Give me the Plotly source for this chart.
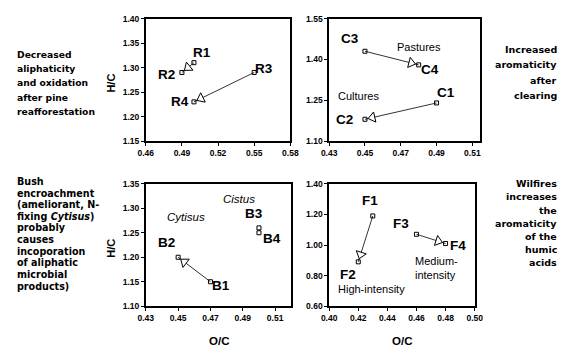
import math
import plotly.graph_objects as go

# ---------------- data ----------------
R_labels = ["R1", "R2", "R3", "R4"]
R_x = [0.50, 0.49, 0.55, 0.50]
R_y = [1.31, 1.29, 1.29, 1.23]
R_arrows = [(0, 1), (2, 3)]

C_labels = ["C1", "C2", "C3", "C4"]
C_x = [0.49, 0.45, 0.45, 0.48]
C_y = [1.24, 1.18, 1.43, 1.38]
C_arrows = [(0, 1), (2, 3)]

B_labels = ["B1", "B2", "B3", "B4"]
B_x = [0.47, 0.45, 0.50, 0.50]
B_y = [1.15, 1.20, 1.26, 1.25]
B_arrows = [(0, 1)]

F_labels = ["F1", "F2", "F3", "F4"]
F_x = [0.43, 0.42, 0.46, 0.48]
F_y = [1.19, 0.89, 1.07, 1.01]
F_arrows = [(0, 1), (2, 3)]

x_title = "O/C"
y_title = "H/C"

left_top_text = ["Decreased", "aliphaticity", "and oxidation", "after pine", "reafforestation"]
left_bottom_text = ["Bush", "encroachment", "(ameliorant, N-", "fixing <i>Cytisus</i>)", "probably",
                    "causes", "incoporation", "of aliphatic", "microbial", "products)"]
right_top_text = ["Increased", "aromaticity", "after", "clearing"]
right_bottom_text = ["Wilfires", "increases", "the", "aromaticity", "of the", "humic", "acids"]

# ---------------- layout constants ----------------
W, H = 571, 353
panels = {
    "TL": dict(xd=(142, 291), yd=(14, 140), xr=(0.46, 0.58), yr=(1.15, 1.40), xt=(0.46, 0.03), yt=(1.15, 0.05)),
    "TR": dict(xd=(331, 486), yd=(14, 140), xr=(0.43, 0.514), yr=(1.10, 1.55), xt=(0.43, 0.02), yt=(1.10, 0.15)),
    "BL": dict(xd=(142, 292), yd=(184, 310), xr=(0.43, 0.52), yr=(1.10, 1.35), xt=(0.43, 0.02), yt=(1.10, 0.05)),
    "BR": dict(xd=(331, 481), yd=(184, 310), xr=(0.40, 0.50), yr=(0.60, 1.40), xt=(0.40, 0.02), yt=(0.60, 0.20)),
}
axis_ids = {"TL": ("x", "y"), "TR": ("x2", "y2"), "BL": ("x3", "y3"), "BR": ("x4", "y4")}

FONT = "Liberation Sans, Arial, sans-serif"
SIDE_FONT = "DejaVu Sans, sans-serif"

fig = go.Figure()


def to_px(p, x, y):
    (x0, x1), (yt, yb) = p["xd"], p["yd"]
    (a0, a1), (b0, b1) = p["xr"], p["yr"]
    px = x0 + (x - a0) / (a1 - a0) * (x1 - x0)
    py = yb - (y - b0) / (b1 - b0) * (yb - yt)
    return px, py


def from_px(p, px, py):
    (x0, x1), (yt, yb) = p["xd"], p["yd"]
    (a0, a1), (b0, b1) = p["xr"], p["yr"]
    x = a0 + (px - x0) / (x1 - x0) * (a1 - a0)
    y = b0 + (yb - py) / (yb - yt) * (b1 - b0)
    return x, y


def add_group(name, xs, ys, labels, arrows, shifts):
    p = panels[name]
    xa, ya = axis_ids[name]
    for i, j in arrows:
        fig.add_trace(go.Scatter(x=[xs[i], xs[j]], y=[ys[i], ys[j]], mode="lines",
                                 line=dict(color="black", width=0.8), xaxis=xa, yaxis=ya,
                                 showlegend=False, hoverinfo="skip"))
    fig.add_trace(go.Scatter(x=xs, y=ys, mode="markers",
                             marker=dict(symbol="square-open", size=4, color="black",
                                         line=dict(width=1, color="black")),
                             xaxis=xa, yaxis=ya, showlegend=False))
    hx, hy, ang = [], [], []
    for i, j in arrows:
        p0 = to_px(p, xs[i], ys[i])
        p1 = to_px(p, xs[j], ys[j])
        dx, dy = p1[0] - p0[0], p1[1] - p0[1]
        L = math.hypot(dx, dy)
        back = 8.0
        cx, cy = p1[0] - dx / L * back, p1[1] - dy / L * back
        dxh, dyh = from_px(p, cx, cy)
        hx.append(dxh)
        hy.append(dyh)
        ang.append(math.degrees(math.atan2(dx, -dy)))
    fig.add_trace(go.Scatter(x=hx, y=hy, mode="markers",
                             marker=dict(symbol="triangle-up", size=9, color="white", angle=ang,
                                         line=dict(width=1, color="black")),
                             xaxis=xa, yaxis=ya, showlegend=False, hoverinfo="skip"))
    for k, lab in enumerate(labels):
        sx, sy = shifts[k]
        fig.add_annotation(x=xs[k], y=ys[k], xref=xa, yref=ya, text="<b>%s</b>" % lab,
                           showarrow=False, xshift=sx, yshift=sy,
                           xanchor="center", yanchor="middle",
                           font=dict(family=FONT, size=13.5, color="black"))


add_group("TL", R_x, R_y, R_labels, R_arrows, [(8, 10), (-15, -2), (10, 4), (-14, 0)])
add_group("TR", C_x, C_y, C_labels, C_arrows, [(9, 10), (-20, 0), (-15, 13), (11, -5)])
add_group("BL", B_x, B_y, B_labels, B_arrows, [(11, -4), (-12, 15), (-5, 14), (13, -6)])
add_group("BR", F_x, F_y, F_labels, F_arrows, [(-3, 15), (-10, -13), (-15, 11), (12, -2)])


def panel_text(name, px, py, text, xanchor="center", align="center", italic=False, size=11):
    p = panels[name]
    xa, ya = axis_ids[name]
    x, y = from_px(p, px, py)
    t = "<i>%s</i>" % text if italic else text
    fig.add_annotation(x=x, y=y, xref=xa, yref=ya, text=t, showarrow=False,
                       xanchor=xanchor, yanchor="middle", align=align,
                       font=dict(family=FONT, size=size, color="black"))


panel_text("TR", 424, 43.5, "Pastures")
panel_text("TR", 361, 93.5, "Cultures")
panel_text("BL", 183, 218.5, "Cytisus", italic=True, size=11.5)
panel_text("BL", 238, 200, "Cistus", italic=True, size=11.5)
panel_text("BR", 375, 292.5, "High-intensity")
panel_text("BR", 417, 271, "Medium-<br>intensity", xanchor="left", align="left")


def side_lines(lines, x, y0, step, xanchor, size):
    for k, ln in enumerate(lines):
        fig.add_annotation(x=x / W, y=1 - (y0 + k * step) / H, xref="paper", yref="paper",
                           text="<b>%s</b>" % ln, showarrow=False, xanchor=xanchor, yanchor="middle",
                           font=dict(family=SIDE_FONT, size=size, color="black"))


side_lines(left_top_text, 7, 50.5, 14.8, "left", 9.2)
side_lines(left_bottom_text, 7, 181.5, 12.0, "left", 9.6)
side_lines(right_top_text, 568, 45.5, 16, "right", 9.5)
side_lines(right_bottom_text, 568, 184, 13.5, "right", 9.5)

for name in ["TL", "BL"]:
    p = panels[name]
    yc = (p["yd"][0] + p["yd"][1]) / 2
    fig.add_annotation(x=106 / W, y=1 - (yc + 3) / H, xref="paper", yref="paper", text="<b>%s</b>" % y_title,
                       showarrow=False, textangle=-90, xanchor="center", yanchor="middle",
                       font=dict(family=FONT, size=11, color="black"))
for name in ["BL", "BR"]:
    p = panels[name]
    xc = (p["xd"][0] + p["xd"][1]) / 2
    fig.add_annotation(x=xc / W, y=1 - 346 / H, xref="paper", yref="paper", text="<b>%s</b>" % x_title,
                       showarrow=False, xanchor="center", yanchor="middle",
                       font=dict(family=FONT, size=11.5, color="black"))

layout = dict(width=W, height=H, margin=dict(l=0, r=0, t=0, b=0),
              paper_bgcolor="white", plot_bgcolor="white", showlegend=False)
for name, (xa, ya) in axis_ids.items():
    p = panels[name]
    common = dict(showline=True, mirror=True, linecolor="black", linewidth=1.6,
                  ticks="outside", ticklen=3, tickwidth=1, tickcolor="black",
                  showgrid=False, zeroline=False, tickformat=".2f",
                  tickfont=dict(family=FONT, size=8.5, color="black", weight="bold"))
    xkey = "xaxis" if xa == "x" else "xaxis" + xa[1:]
    ykey = "yaxis" if ya == "y" else "yaxis" + ya[1:]
    layout[xkey] = dict(domain=[p["xd"][0] / W, p["xd"][1] / W], range=list(p["xr"]),
                        tick0=p["xt"][0], dtick=p["xt"][1], anchor=ya, **common)
    layout[ykey] = dict(domain=[1 - p["yd"][1] / H, 1 - p["yd"][0] / H], range=list(p["yr"]),
                        tick0=p["yt"][0], dtick=p["yt"][1], anchor=xa, **common)
fig.update_layout(**layout)

fig.write_html("out.html")
